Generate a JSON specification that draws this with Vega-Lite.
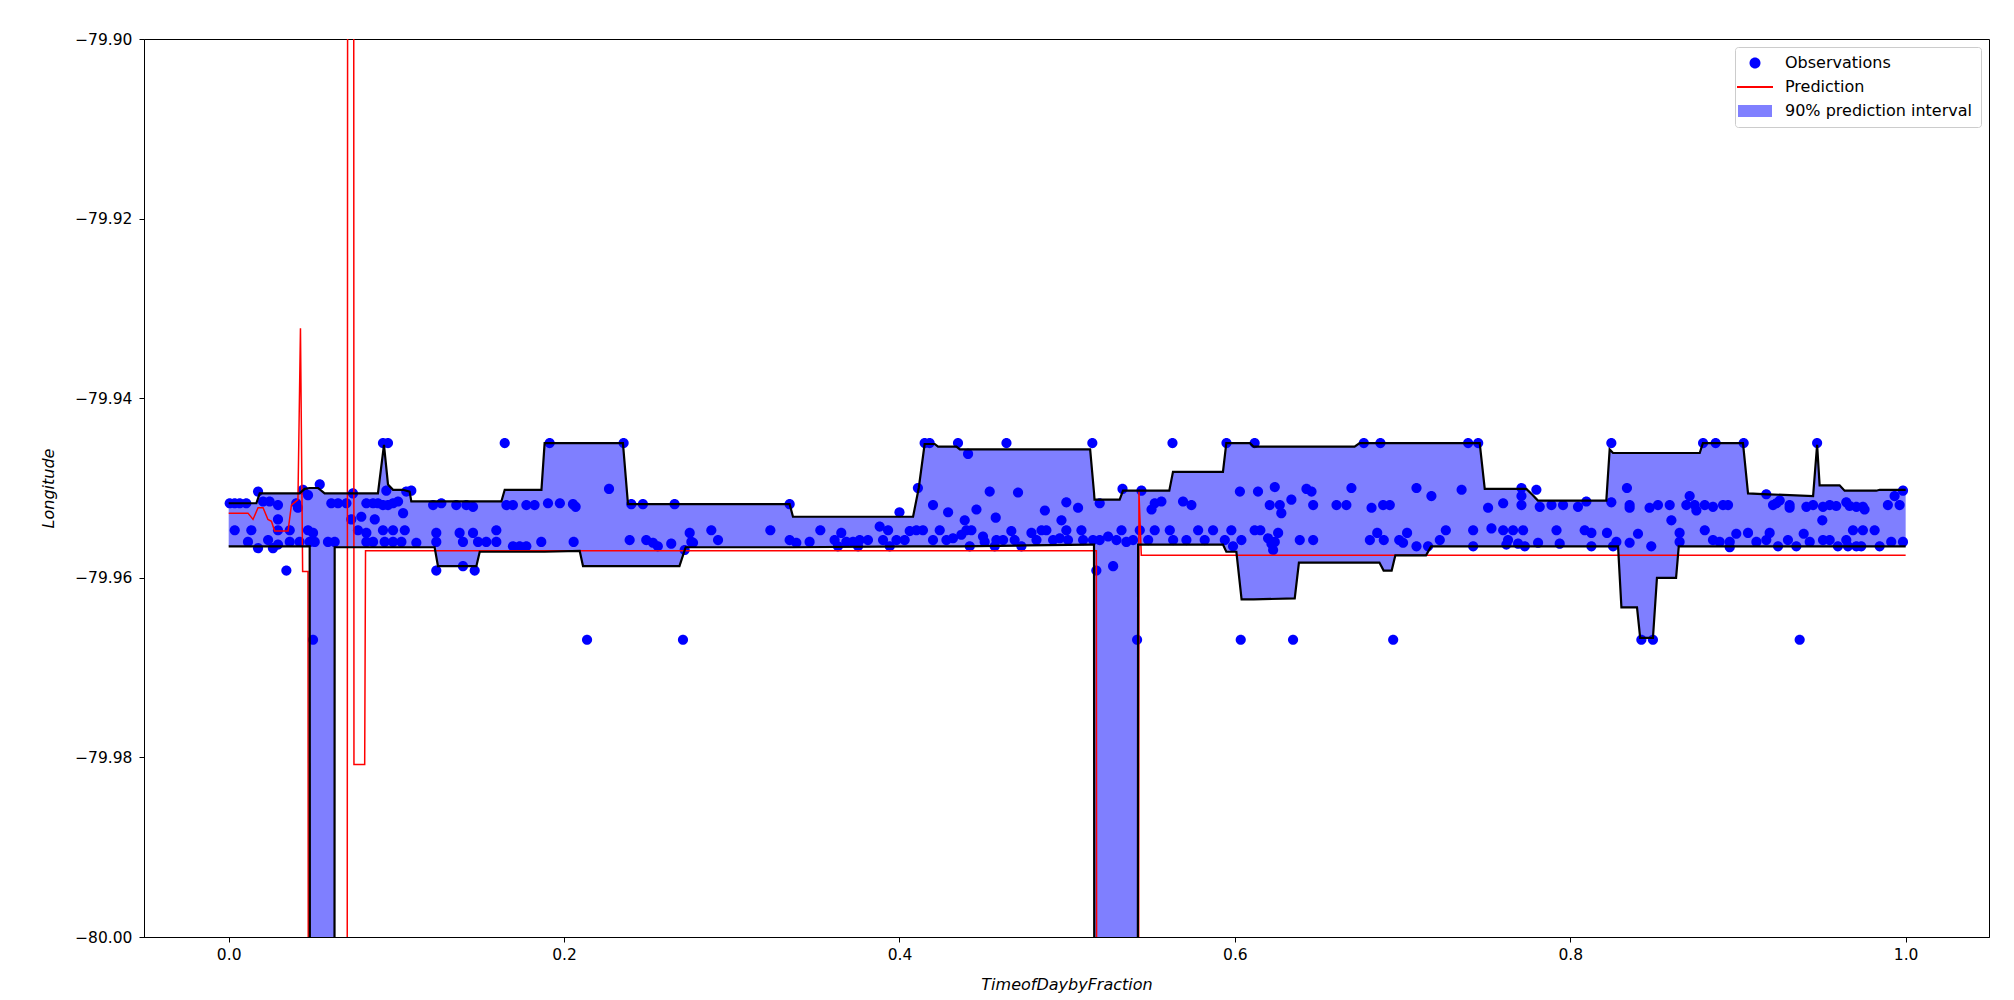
{
"$schema": "https://vega.github.io/schema/vega-lite/v6.json",
"width": 1845,
"height": 898,
"autosize": {"type": "none"},
"padding": {"left": 144, "top": 39, "right": 25, "bottom": 63},
"background": "white",
"datasets": {
"bounds": [
{"t":0.0000,"lo":-79.9565,"hi":-79.9517},{"t":0.0165,"lo":-79.9565,"hi":-79.9517},{"t":0.0185,"lo":-79.9565,"hi":-79.9506},{"t":0.0423,"lo":-79.9565,"hi":-79.9506},{"t":0.0453,"lo":-79.9565,"hi":-79.9501},{"t":0.0483,"lo":-79.9565,"hi":-79.9500},{"t":0.0485,"lo":-80.05,"hi":-79.9500},{"t":0.0533,"lo":-80.05,"hi":-79.9500},{"t":0.0572,"lo":-80.05,"hi":-79.9506},{"t":0.0630,"lo":-80.05,"hi":-79.9506},{"t":0.0632,"lo":-79.9566,"hi":-79.9506},{"t":0.0890,"lo":-79.9566,"hi":-79.9506},{"t":0.0926,"lo":-79.9566,"hi":-79.9452},{"t":0.0950,"lo":-79.9566,"hi":-79.9496},{"t":0.0980,"lo":-79.9566,"hi":-79.9502},{"t":0.1039,"lo":-79.9566,"hi":-79.9502},{"t":0.1079,"lo":-79.9566,"hi":-79.9504},{"t":0.1089,"lo":-79.9566,"hi":-79.9515},{"t":0.1228,"lo":-79.9566,"hi":-79.9515},{"t":0.1248,"lo":-79.9587,"hi":-79.9515},{"t":0.1477,"lo":-79.9587,"hi":-79.9515},{"t":0.1497,"lo":-79.9571,"hi":-79.9515},{"t":0.1626,"lo":-79.9571,"hi":-79.9515},{"t":0.1646,"lo":-79.9571,"hi":-79.9502},{"t":0.1865,"lo":-79.9571,"hi":-79.9502},{"t":0.1884,"lo":-79.9571,"hi":-79.9450},{"t":0.2093,"lo":-79.9570,"hi":-79.9450},{"t":0.2113,"lo":-79.9587,"hi":-79.9450},{"t":0.2351,"lo":-79.9587,"hi":-79.9450},{"t":0.2381,"lo":-79.9587,"hi":-79.9518},{"t":0.2688,"lo":-79.9587,"hi":-79.9518},{"t":0.2725,"lo":-79.9566,"hi":-79.9518},{"t":0.3345,"lo":-79.9566,"hi":-79.9518},{"t":0.3365,"lo":-79.9566,"hi":-79.9532},{"t":0.4081,"lo":-79.9565,"hi":-79.9532},{"t":0.4115,"lo":-79.9565,"hi":-79.9500},{"t":0.4150,"lo":-79.9565,"hi":-79.9451},{"t":0.4210,"lo":-79.9565,"hi":-79.9451},{"t":0.4230,"lo":-79.9565,"hi":-79.9454},{"t":0.4340,"lo":-79.9565,"hi":-79.9454},{"t":0.4360,"lo":-79.9565,"hi":-79.9457},{"t":0.4756,"lo":-79.9564,"hi":-79.9457},{"t":0.5137,"lo":-79.9563,"hi":-79.9457},{"t":0.5160,"lo":-79.9563,"hi":-79.9505},{"t":0.5163,"lo":-80.05,"hi":-79.9513},{"t":0.5313,"lo":-80.05,"hi":-79.9513},{"t":0.5333,"lo":-80.05,"hi":-79.9503},{"t":0.5420,"lo":-80.05,"hi":-79.9503},{"t":0.5423,"lo":-79.9563,"hi":-79.9503},{"t":0.5609,"lo":-79.9563,"hi":-79.9503},{"t":0.5631,"lo":-79.9563,"hi":-79.9482},{"t":0.5929,"lo":-79.9563,"hi":-79.9482},{"t":0.5949,"lo":-79.9571,"hi":-79.9450},{"t":0.6009,"lo":-79.9571,"hi":-79.9450},{"t":0.6040,"lo":-79.9624,"hi":-79.9450},{"t":0.6090,"lo":-79.9624,"hi":-79.9450},{"t":0.6112,"lo":-79.9624,"hi":-79.9454},{"t":0.6357,"lo":-79.9623,"hi":-79.9454},{"t":0.6382,"lo":-79.9583,"hi":-79.9454},{"t":0.6714,"lo":-79.9583,"hi":-79.9454},{"t":0.6744,"lo":-79.9583,"hi":-79.9450},{"t":0.6862,"lo":-79.9583,"hi":-79.9450},{"t":0.6887,"lo":-79.9592,"hi":-79.9450},{"t":0.6935,"lo":-79.9592,"hi":-79.9450},{"t":0.6957,"lo":-79.9575,"hi":-79.9450},{"t":0.7140,"lo":-79.9575,"hi":-79.9450},{"t":0.7170,"lo":-79.9565,"hi":-79.9450},{"t":0.7460,"lo":-79.9565,"hi":-79.9450},{"t":0.7490,"lo":-79.9565,"hi":-79.9501},{"t":0.7738,"lo":-79.9565,"hi":-79.9501},{"t":0.7777,"lo":-79.9565,"hi":-79.9508},{"t":0.7807,"lo":-79.9565,"hi":-79.9514},{"t":0.8215,"lo":-79.9565,"hi":-79.9514},{"t":0.8235,"lo":-79.9565,"hi":-79.9457},{"t":0.8255,"lo":-79.9565,"hi":-79.9461},{"t":0.8285,"lo":-79.9565,"hi":-79.9461},{"t":0.8305,"lo":-79.9633,"hi":-79.9461},{"t":0.8398,"lo":-79.9633,"hi":-79.9461},{"t":0.8417,"lo":-79.9667,"hi":-79.9461},{"t":0.8493,"lo":-79.9667,"hi":-79.9461},{"t":0.8517,"lo":-79.9600,"hi":-79.9461},{"t":0.8631,"lo":-79.9600,"hi":-79.9461},{"t":0.8647,"lo":-79.9565,"hi":-79.9461},{"t":0.8772,"lo":-79.9565,"hi":-79.9461},{"t":0.8791,"lo":-79.9565,"hi":-79.9450},{"t":0.9030,"lo":-79.9565,"hi":-79.9450},{"t":0.9060,"lo":-79.9565,"hi":-79.9506},{"t":0.9179,"lo":-79.9565,"hi":-79.9507},{"t":0.9448,"lo":-79.9565,"hi":-79.9509},{"t":0.9472,"lo":-79.9565,"hi":-79.9452},{"t":0.9487,"lo":-79.9565,"hi":-79.9497},{"t":0.9606,"lo":-79.9565,"hi":-79.9497},{"t":0.9636,"lo":-79.9565,"hi":-79.9503},{"t":0.9825,"lo":-79.9565,"hi":-79.9503},{"t":0.9845,"lo":-79.9565,"hi":-79.9502},{"t":1.0000,"lo":-79.9565,"hi":-79.9502}
],
"pred": [
{"t":0.0000,"p":-79.9528},{"t":0.0115,"p":-79.9528},{"t":0.0145,"p":-79.9535},{"t":0.0175,"p":-79.9522},{"t":0.0205,"p":-79.9522},{"t":0.0234,"p":-79.9535},{"t":0.0255,"p":-79.9537},{"t":0.0274,"p":-79.9548},{"t":0.0354,"p":-79.9548},{"t":0.0374,"p":-79.9519},{"t":0.0413,"p":-79.9513},{"t":0.0428,"p":-79.9322},{"t":0.0441,"p":-79.9593},{"t":0.0473,"p":-79.9593},{"t":0.0476,"p":-80.05},{"t":0.0706,"p":-80.05},{"t":0.0710,"p":-79.85},{"t":0.0745,"p":-79.85},{"t":0.0747,"p":-79.9808},{"t":0.0811,"p":-79.9808},{"t":0.0816,"p":-79.9570},{"t":0.5174,"p":-79.9570},{"t":0.5177,"p":-80.05},{"t":0.5425,"p":-80.05},{"t":0.5428,"p":-79.9504},{"t":0.5442,"p":-79.9575},{"t":1.0000,"p":-79.9575}
],
"obs": [
{"t":0.0006,"lon":-79.9517},{"t":0.0036,"lon":-79.9517},{"t":0.0066,"lon":-79.9517},{"t":0.0105,"lon":-79.9517},{"t":0.0175,"lon":-79.9504},{"t":0.0205,"lon":-79.9515},{"t":0.0244,"lon":-79.9515},{"t":0.0294,"lon":-79.9519},{"t":0.0294,"lon":-79.9535},{"t":0.0036,"lon":-79.9547},{"t":0.0135,"lon":-79.9547},{"t":0.0294,"lon":-79.9547},{"t":0.0364,"lon":-79.9547},{"t":0.0115,"lon":-79.9560},{"t":0.0175,"lon":-79.9567},{"t":0.0235,"lon":-79.9558},{"t":0.0264,"lon":-79.9567},{"t":0.0294,"lon":-79.9563},{"t":0.0364,"lon":-79.9560},{"t":0.0423,"lon":-79.9560},{"t":0.0344,"lon":-79.9592},{"t":0.0403,"lon":-79.9517},{"t":0.0413,"lon":-79.9522},{"t":0.0443,"lon":-79.9502},{"t":0.0473,"lon":-79.9508},{"t":0.0473,"lon":-79.9547},{"t":0.0503,"lon":-79.9550},{"t":0.0483,"lon":-79.9560},{"t":0.0513,"lon":-79.9560},{"t":0.0543,"lon":-79.9496},{"t":0.0503,"lon":-79.9669},{"t":0.0592,"lon":-79.9560},{"t":0.0632,"lon":-79.9560},{"t":0.0612,"lon":-79.9517},{"t":0.0652,"lon":-79.9517},{"t":0.0702,"lon":-79.9517},{"t":0.0741,"lon":-79.9506},{"t":0.0731,"lon":-79.9535},{"t":0.0791,"lon":-79.9532},{"t":0.0821,"lon":-79.9517},{"t":0.0861,"lon":-79.9517},{"t":0.0890,"lon":-79.9517},{"t":0.0920,"lon":-79.9519},{"t":0.0950,"lon":-79.9519},{"t":0.0980,"lon":-79.9517},{"t":0.1010,"lon":-79.9515},{"t":0.1040,"lon":-79.9528},{"t":0.0771,"lon":-79.9547},{"t":0.0821,"lon":-79.9550},{"t":0.0871,"lon":-79.9535},{"t":0.0920,"lon":-79.9547},{"t":0.0980,"lon":-79.9547},{"t":0.1050,"lon":-79.9547},{"t":0.0821,"lon":-79.9560},{"t":0.0861,"lon":-79.9560},{"t":0.0930,"lon":-79.9560},{"t":0.0980,"lon":-79.9560},{"t":0.1030,"lon":-79.9560},{"t":0.1119,"lon":-79.9561},{"t":0.0940,"lon":-79.9503},{"t":0.1059,"lon":-79.9504},{"t":0.1089,"lon":-79.9503},{"t":0.0920,"lon":-79.9450},{"t":0.0950,"lon":-79.9450},{"t":0.1219,"lon":-79.9519},{"t":0.1268,"lon":-79.9517},{"t":0.1357,"lon":-79.9519},{"t":0.1417,"lon":-79.9519},{"t":0.1457,"lon":-79.9521},{"t":0.1238,"lon":-79.9550},{"t":0.1238,"lon":-79.9560},{"t":0.1377,"lon":-79.9550},{"t":0.1397,"lon":-79.9560},{"t":0.1457,"lon":-79.9550},{"t":0.1487,"lon":-79.9560},{"t":0.1536,"lon":-79.9560},{"t":0.1596,"lon":-79.9547},{"t":0.1596,"lon":-79.9560},{"t":0.1238,"lon":-79.9592},{"t":0.1397,"lon":-79.9587},{"t":0.1467,"lon":-79.9592},{"t":0.1646,"lon":-79.9450},{"t":0.1656,"lon":-79.9519},{"t":0.1695,"lon":-79.9519},{"t":0.1775,"lon":-79.9519},{"t":0.1824,"lon":-79.9519},{"t":0.1904,"lon":-79.9517},{"t":0.1975,"lon":-79.9517},{"t":0.1695,"lon":-79.9565},{"t":0.1735,"lon":-79.9565},{"t":0.1775,"lon":-79.9565},{"t":0.1864,"lon":-79.9560},{"t":0.1914,"lon":-79.9450},
{"t":0.2053,"lon":-79.9518},{"t":0.2069,"lon":-79.9521},{"t":0.2057,"lon":-79.9560},{"t":0.2268,"lon":-79.9501},{"t":0.2355,"lon":-79.9450},{"t":0.2391,"lon":-79.9558},{"t":0.2401,"lon":-79.9518},{"t":0.2470,"lon":-79.9518},{"t":0.2490,"lon":-79.9558},{"t":0.2530,"lon":-79.9561},{"t":0.2559,"lon":-79.9565},{"t":0.2639,"lon":-79.9562},{"t":0.2659,"lon":-79.9518},{"t":0.2137,"lon":-79.9669},{"t":0.2709,"lon":-79.9669},{"t":0.2749,"lon":-79.9550},{"t":0.2759,"lon":-79.9560},{"t":0.2769,"lon":-79.9561},{"t":0.2878,"lon":-79.9547},{"t":0.2918,"lon":-79.9558},{"t":0.2719,"lon":-79.9569},{"t":0.3230,"lon":-79.9547},{"t":0.3345,"lon":-79.9558},{"t":0.3385,"lon":-79.9561},{"t":0.3464,"lon":-79.9560},{"t":0.3528,"lon":-79.9547},{"t":0.3345,"lon":-79.9518},{"t":0.3613,"lon":-79.9558},{"t":0.3653,"lon":-79.9550},{"t":0.3633,"lon":-79.9565},{"t":0.3683,"lon":-79.9560},{"t":0.3723,"lon":-79.9560},{"t":0.3753,"lon":-79.9565},{"t":0.3763,"lon":-79.9558},{"t":0.3812,"lon":-79.9558},{"t":0.3882,"lon":-79.9543},{"t":0.3932,"lon":-79.9547},{"t":0.3902,"lon":-79.9558},{"t":0.3942,"lon":-79.9565},{"t":0.3982,"lon":-79.9558},{"t":0.4000,"lon":-79.9527},
{"t":0.4110,"lon":-79.9500},{"t":0.4150,"lon":-79.9450},{"t":0.4180,"lon":-79.9450},{"t":0.4200,"lon":-79.9519},{"t":0.4290,"lon":-79.9527},{"t":0.4389,"lon":-79.9536},{"t":0.4459,"lon":-79.9524},{"t":0.4538,"lon":-79.9504},{"t":0.4574,"lon":-79.9533},{"t":0.4707,"lon":-79.9505},{"t":0.4867,"lon":-79.9525},{"t":0.4966,"lon":-79.9536},{"t":0.4995,"lon":-79.9516},{"t":0.5065,"lon":-79.9522},{"t":0.4349,"lon":-79.9450},{"t":0.4409,"lon":-79.9462},{"t":0.4638,"lon":-79.9450},{"t":0.5150,"lon":-79.9450},{"t":0.4031,"lon":-79.9558},{"t":0.4061,"lon":-79.9548},{"t":0.4101,"lon":-79.9547},{"t":0.4140,"lon":-79.9547},{"t":0.4200,"lon":-79.9558},{"t":0.4240,"lon":-79.9547},{"t":0.4280,"lon":-79.9558},{"t":0.4319,"lon":-79.9556},{"t":0.4369,"lon":-79.9552},{"t":0.4399,"lon":-79.9547},{"t":0.4429,"lon":-79.9547},{"t":0.4419,"lon":-79.9565},{"t":0.4498,"lon":-79.9554},{"t":0.4508,"lon":-79.9560},{"t":0.4578,"lon":-79.9558},{"t":0.4568,"lon":-79.9565},{"t":0.4618,"lon":-79.9558},{"t":0.4667,"lon":-79.9548},{"t":0.4687,"lon":-79.9558},{"t":0.4727,"lon":-79.9565},{"t":0.4787,"lon":-79.9550},{"t":0.4817,"lon":-79.9558},{"t":0.4847,"lon":-79.9547},{"t":0.4876,"lon":-79.9547},{"t":0.4916,"lon":-79.9558},{"t":0.4956,"lon":-79.9556},{"t":0.4995,"lon":-79.9547},{"t":0.5005,"lon":-79.9558},{"t":0.5085,"lon":-79.9547},{"t":0.5095,"lon":-79.9558},{"t":0.5154,"lon":-79.9558},{"t":0.5194,"lon":-79.9558},{"t":0.5244,"lon":-79.9554},{"t":0.5294,"lon":-79.9558},{"t":0.5324,"lon":-79.9547},{"t":0.5353,"lon":-79.9560},{"t":0.5393,"lon":-79.9558},{"t":0.5174,"lon":-79.9592},{"t":0.5274,"lon":-79.9587},{"t":0.5194,"lon":-79.9517},{"t":0.5330,"lon":-79.9501},{"t":0.5443,"lon":-79.9503},{"t":0.5417,"lon":-79.9669},{"t":0.5433,"lon":-79.9547},{"t":0.5483,"lon":-79.9558},{"t":0.5503,"lon":-79.9524},{"t":0.5522,"lon":-79.9517},{"t":0.5562,"lon":-79.9515},{"t":0.5522,"lon":-79.9547},{"t":0.5612,"lon":-79.9547},{"t":0.5632,"lon":-79.9558},{"t":0.5691,"lon":-79.9515},{"t":0.5741,"lon":-79.9519},{"t":0.5711,"lon":-79.9558},{"t":0.5781,"lon":-79.9547},{"t":0.5820,"lon":-79.9558},{"t":0.5870,"lon":-79.9547},{"t":0.5940,"lon":-79.9558},{"t":0.5979,"lon":-79.9547},{"t":0.5989,"lon":-79.9565},{"t":0.5628,"lon":-79.9450},{"t":0.5950,"lon":-79.9450},{"t":0.6030,"lon":-79.9504},{"t":0.6035,"lon":-79.9669},
{"t":0.6138,"lon":-79.9504},{"t":0.6238,"lon":-79.9499},{"t":0.6427,"lon":-79.9501},{"t":0.6457,"lon":-79.9504},{"t":0.6695,"lon":-79.9500},{"t":0.7083,"lon":-79.9500},{"t":0.7352,"lon":-79.9502},{"t":0.7172,"lon":-79.9509},{"t":0.6118,"lon":-79.9450},{"t":0.6769,"lon":-79.9450},{"t":0.6868,"lon":-79.9450},{"t":0.7391,"lon":-79.9450},{"t":0.7451,"lon":-79.9450},{"t":0.6337,"lon":-79.9513},{"t":0.6208,"lon":-79.9519},{"t":0.6268,"lon":-79.9519},{"t":0.6277,"lon":-79.9528},{"t":0.6467,"lon":-79.9519},{"t":0.6606,"lon":-79.9519},{"t":0.6665,"lon":-79.9519},{"t":0.6815,"lon":-79.9522},{"t":0.6884,"lon":-79.9519},{"t":0.6924,"lon":-79.9519},{"t":0.6118,"lon":-79.9547},{"t":0.6152,"lon":-79.9547},{"t":0.6258,"lon":-79.9550},{"t":0.6198,"lon":-79.9556},{"t":0.6218,"lon":-79.9562},{"t":0.6238,"lon":-79.9560},{"t":0.6228,"lon":-79.9569},{"t":0.6387,"lon":-79.9558},{"t":0.6467,"lon":-79.9558},{"t":0.6039,"lon":-79.9558},{"t":0.6805,"lon":-79.9558},{"t":0.6849,"lon":-79.9550},{"t":0.6888,"lon":-79.9558},{"t":0.6980,"lon":-79.9558},{"t":0.7003,"lon":-79.9561},{"t":0.7027,"lon":-79.9550},{"t":0.7083,"lon":-79.9565},{"t":0.7152,"lon":-79.9565},{"t":0.7222,"lon":-79.9558},{"t":0.7258,"lon":-79.9547},{"t":0.7421,"lon":-79.9547},{"t":0.7421,"lon":-79.9565},{"t":0.6347,"lon":-79.9669},{"t":0.6944,"lon":-79.9669},{"t":0.7510,"lon":-79.9522},{"t":0.7600,"lon":-79.9517},{"t":0.7709,"lon":-79.9500},{"t":0.7709,"lon":-79.9509},{"t":0.7709,"lon":-79.9519},{"t":0.7798,"lon":-79.9502},{"t":0.7818,"lon":-79.9521},{"t":0.7888,"lon":-79.9519},{"t":0.7957,"lon":-79.9519},{"t":0.8046,"lon":-79.9521},{"t":0.7530,"lon":-79.9545},{"t":0.7600,"lon":-79.9547},{"t":0.7659,"lon":-79.9547},{"t":0.7719,"lon":-79.9547},{"t":0.7629,"lon":-79.9558},{"t":0.7619,"lon":-79.9563},{"t":0.7689,"lon":-79.9562},{"t":0.7729,"lon":-79.9565},{"t":0.7808,"lon":-79.9561},{"t":0.7918,"lon":-79.9547},{"t":0.7937,"lon":-79.9562},
{"t":0.8245,"lon":-79.9450},{"t":0.8792,"lon":-79.9450},{"t":0.8867,"lon":-79.9450},{"t":0.9034,"lon":-79.9450},{"t":0.9472,"lon":-79.9450},{"t":0.8096,"lon":-79.9515},{"t":0.8245,"lon":-79.9516},{"t":0.8338,"lon":-79.9500},{"t":0.8354,"lon":-79.9519},{"t":0.8354,"lon":-79.9522},{"t":0.8473,"lon":-79.9522},{"t":0.8523,"lon":-79.9519},{"t":0.8593,"lon":-79.9519},{"t":0.8603,"lon":-79.9536},{"t":0.8712,"lon":-79.9509},{"t":0.8692,"lon":-79.9519},{"t":0.8742,"lon":-79.9519},{"t":0.8752,"lon":-79.9525},{"t":0.8802,"lon":-79.9519},{"t":0.8851,"lon":-79.9521},{"t":0.8911,"lon":-79.9519},{"t":0.8941,"lon":-79.9519},{"t":0.9169,"lon":-79.9507},{"t":0.9209,"lon":-79.9519},{"t":0.9229,"lon":-79.9517},{"t":0.9249,"lon":-79.9514},{"t":0.9308,"lon":-79.9519},{"t":0.9308,"lon":-79.9522},{"t":0.9408,"lon":-79.9521},{"t":0.9448,"lon":-79.9519},{"t":0.9503,"lon":-79.9536},{"t":0.9507,"lon":-79.9521},{"t":0.9547,"lon":-79.9519},{"t":0.9586,"lon":-79.9520},{"t":0.9646,"lon":-79.9516},{"t":0.9666,"lon":-79.9520},{"t":0.9706,"lon":-79.9521},{"t":0.9745,"lon":-79.9521},{"t":0.9755,"lon":-79.9524},{"t":0.9894,"lon":-79.9519},{"t":0.9934,"lon":-79.9509},{"t":0.9964,"lon":-79.9519},{"t":0.9984,"lon":-79.9503},{"t":0.8086,"lon":-79.9547},{"t":0.8126,"lon":-79.9550},{"t":0.8219,"lon":-79.9550},{"t":0.8275,"lon":-79.9560},{"t":0.8354,"lon":-79.9561},{"t":0.8404,"lon":-79.9551},{"t":0.8483,"lon":-79.9565},{"t":0.8652,"lon":-79.9550},{"t":0.8652,"lon":-79.9560},{"t":0.8802,"lon":-79.9547},{"t":0.8851,"lon":-79.9558},{"t":0.8891,"lon":-79.9560},{"t":0.8951,"lon":-79.9560},{"t":0.8951,"lon":-79.9566},{"t":0.8990,"lon":-79.9551},{"t":0.9060,"lon":-79.9550},{"t":0.9110,"lon":-79.9560},{"t":0.9169,"lon":-79.9558},{"t":0.9189,"lon":-79.9550},{"t":0.9239,"lon":-79.9565},{"t":0.9298,"lon":-79.9558},{"t":0.9348,"lon":-79.9565},{"t":0.9392,"lon":-79.9551},{"t":0.9428,"lon":-79.9560},{"t":0.9507,"lon":-79.9558},{"t":0.9547,"lon":-79.9558},{"t":0.9596,"lon":-79.9565},{"t":0.9646,"lon":-79.9558},{"t":0.9686,"lon":-79.9547},{"t":0.9745,"lon":-79.9547},{"t":0.9706,"lon":-79.9565},{"t":0.9815,"lon":-79.9547},{"t":0.9845,"lon":-79.9565},{"t":0.9914,"lon":-79.9560},{"t":0.9984,"lon":-79.9560},{"t":0.9656,"lon":-79.9565},{"t":0.9735,"lon":-79.9565},{"t":0.8126,"lon":-79.9565},{"t":0.8255,"lon":-79.9565},{"t":0.8424,"lon":-79.9669},{"t":0.8493,"lon":-79.9669},{"t":0.9368,"lon":-79.9669}
]
},
"layer": [
{
"data": {"name": "bounds"},
"mark": {"type": "area", "clip": true, "color": "#0000ff", "opacity": 0.5},
"encoding": {
"x": {"field": "t", "type": "quantitative", "scale": {"domain": [-0.0505, 1.0497], "nice": false, "zero": false}, "axis": {"title": "TimeofDaybyFraction", "values": [0, 0.2, 0.4, 0.6, 0.8, 1.0], "format": ".1f", "labelPadding": 5, "titlePadding": 14}},
"y": {"field": "hi", "type": "quantitative", "scale": {"domain": [-80, -79.9], "nice": false, "zero": false}, "axis": {"title": "Longitude", "values": [-80, -79.98, -79.96, -79.94, -79.92, -79.9], "format": ".2f", "labelPadding": 7, "titlePadding": 18}},
"y2": {"field": "lo"}
}
},
{
"data": {"name": "obs"},
"mark": {"type": "point", "filled": true, "size": 340, "opacity": 1, "strokeWidth": 0, "clip": true},
"encoding": {
"x": {"field": "t", "type": "quantitative", "title": "TimeofDaybyFraction"},
"y": {"field": "lon", "type": "quantitative", "title": "Longitude"},
"color": {"datum": "Observations", "type": "nominal",
"scale": {"domain": ["Observations", "Prediction", "90% prediction interval"], "range": ["#0000ff", "#ff0000", "#8080ff"]},
"legend": {"title": null, "orient": "top-right", "offset": 8, "fillColor": "white", "strokeColor": "#cccccc", "cornerRadius": 3, "padding": 8, "rowPadding": 8, "symbolSize": 400, "symbolOffset": 4, "labelOffset": 22, "labelLimit": 500, "labelFont": "DejaVu Sans", "labelFontSize": 16, "labelColor": "#000000", "symbolOpacity": 1,
"encode": {"symbols": {"update": {"stroke": {"scale": "color", "field": "value"}, "strokeWidth": {"signal": "datum.value === 'Prediction' ? 2 : 0"}, "size": {"value": 400}}}}}},
"shape": {"datum": "Observations", "type": "nominal",
"scale": {"domain": ["Observations", "Prediction", "90% prediction interval"], "range": ["M-0.55,0A0.55,0.55,0,1,1,0.55,0A0.55,0.55,0,1,1,-0.55,0Z", "M-1.8,0H1.8", "M-1.7,-0.6H1.7V0.6H-1.7Z"]},
"legend": {"title": null, "orient": "top-right", "offset": 8, "fillColor": "white", "strokeColor": "#cccccc", "cornerRadius": 3, "padding": 8, "rowPadding": 8, "symbolSize": 400, "symbolOffset": 4, "labelOffset": 22, "labelLimit": 500, "labelFont": "DejaVu Sans", "labelFontSize": 16, "labelColor": "#000000", "symbolOpacity": 1,
"encode": {"symbols": {"update": {"stroke": {"scale": "color", "field": "value"}, "strokeWidth": {"signal": "datum.value === 'Prediction' ? 2 : 0"}, "size": {"value": 400}}}}}}
}
},
{
"data": {"name": "pred"},
"mark": {"type": "line", "clip": true, "color": "#ff0000", "strokeWidth": 1.5},
"encoding": {
"x": {"field": "t", "type": "quantitative", "title": "TimeofDaybyFraction"},
"y": {"field": "p", "type": "quantitative", "title": "Longitude"}
}
},
{
"data": {"name": "bounds"},
"mark": {"type": "line", "clip": true, "color": "#000000", "strokeWidth": 2.2},
"encoding": {
"x": {"field": "t", "type": "quantitative", "title": "TimeofDaybyFraction"},
"y": {"field": "hi", "type": "quantitative", "title": "Longitude"}
}
},
{
"data": {"name": "bounds"},
"mark": {"type": "line", "clip": true, "color": "#000000", "strokeWidth": 2.2},
"encoding": {
"x": {"field": "t", "type": "quantitative", "title": "TimeofDaybyFraction"},
"y": {"field": "lo", "type": "quantitative", "title": "Longitude"}
}
}
],
"config": {
"font": "DejaVu Sans",
"view": {"stroke": "#000000", "strokeWidth": 1},
"axis": {"grid": false, "domainColor": "#000000", "domainWidth": 1, "tickColor": "#000000", "tickWidth": 1, "tickSize": 5, "labelColor": "#000000", "titleColor": "#000000", "labelFont": "DejaVu Sans", "labelFontSize": 15.5, "titleFont": "DejaVu Sans", "titleFontSize": 16, "titleFontStyle": "italic", "titleFontWeight": "normal", "labelFlush": false, "labelOverlap": false}
}
}
